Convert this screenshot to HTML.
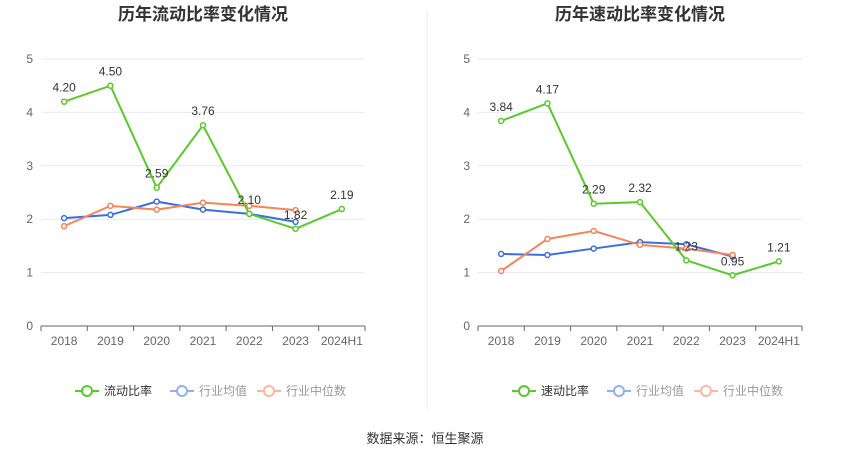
<!DOCTYPE html>
<html><head><meta charset="utf-8"><style>
body{margin:0;background:#fff;font-family:"Liberation Sans","Noto Sans CJK SC",sans-serif;}
svg{display:block}
</style></head><body>
<svg id="c" width="850" height="459" xmlns="http://www.w3.org/2000/svg">
<line x1="427" y1="10" x2="427" y2="410" stroke="#eee"/>
<text x="425" y="443" text-anchor="middle" font-size="13" fill="#333">数据来源：恒生聚源</text>
</svg>
<script>
const categories=["2018","2019","2020","2021","2022","2023","2024H1"];
const yTicks=[0,1,2,3,4,5];
const leftMain=[4.20,4.50,2.59,3.76,2.10,1.82,2.19];
const leftAvg=[2.02,2.08,2.33,2.18,2.10,1.95];
const leftMed=[1.87,2.25,2.18,2.31,2.25,2.17];
const rightMain=[3.84,4.17,2.29,2.32,1.23,0.95,1.21];
const rightAvg=[1.35,1.33,1.45,1.57,1.53,1.30];
const rightMed=[1.03,1.63,1.78,1.52,1.45,1.33];
const svg=document.getElementById('c');
const NS="http://www.w3.org/2000/svg";
function mk(t,a,txt){const e=document.createElementNS(NS,t);for(const k in a)e.setAttribute(k,a[k]);if(txt!==undefined)e.textContent=txt;svg.appendChild(e);return e;}
function chart(x0,x1,title,mainName,main,avg,med,pre){
  const y0=326,yTop=59;
  const ys=v=>y0-(v/5)*(y0-yTop);
  const step=(x1-x0)/categories.length;
  const xs=i=>x0+step*(i+0.5);
  let t=mk('text',{x:(x0+x1)/2,y:20,'text-anchor':'middle','font-size':17,'font-weight':'bold',fill:'#333'},title);
  
  yTicks.forEach(v=>{
    if(v>0){const g=mk('line',{x1:x0,x2:x1,y1:ys(v),y2:ys(v),stroke:'#e6e9ef'});}
    const l=mk('text',{x:x0-8,y:ys(v)+4,'text-anchor':'end','font-size':12,fill:'#666'},v);
    
  });
  const ax=mk('line',{x1:x0,x2:x1,y1:y0,y2:y0,stroke:'#666'});
  categories.forEach((c,i)=>{
    const tk=mk('line',{x1:xs(i)+step/2,x2:xs(i)+step/2,y1:y0,y2:y0+5,stroke:'#666'});
    const l=mk('text',{x:xs(i),y:y0+19,'text-anchor':'middle','font-size':12,fill:'#666'},c);
    
  });
  const tk0=mk('line',{x1:x0,x2:x0,y1:y0,y2:y0+5,stroke:'#666'});
  function series(arr,col,name,labels){
    const p=mk('polyline',{points:arr.map((v,i)=>xs(i)+','+ys(v)).join(' '),fill:'none',stroke:col,'stroke-width':2});
    
    arr.forEach((v,i)=>{
      const c=mk('circle',{cx:xs(i),cy:ys(v),r:2.5,fill:'#fff',stroke:col,'stroke-width':1.5});
      
      if(labels){const l=mk('text',{x:xs(i),y:ys(v)-10,'text-anchor':'middle','font-size':12,fill:'#333'},v.toFixed(2));
        }
    });
  }
  series(avg,'#3a6fe0','avg',false);
  series(med,'#f5845a','median',false);
  series(main,'#5ac92b','main',true);
  const lg=[[mainName,'#5ac92b','#333'],['行业均值','#91b0f3','#999'],['行业中位数','#f9b9a0','#999']];
  let lx=(x0+x1)/2-128;
  const widths=[95,87,100];
  lg.forEach((g,i)=>{
    const l=mk('line',{x1:lx,x2:lx+24,y1:391,y2:391,stroke:g[1],'stroke-width':2});
    const c=mk('circle',{cx:lx+12,cy:391,r:5,fill:'#fff',stroke:g[1],'stroke-width':2});
    const tt=mk('text',{x:lx+29,y:395,'font-size':12,fill:g[2]},g[0]);
    lx+=widths[i];
  });
}
chart(41,365,'历年流动比率变化情况','流动比率',leftMain,leftAvg,leftMed,'left');
chart(478,802,'历年速动比率变化情况','速动比率',rightMain,rightAvg,rightMed,'right');
</script>
</body></html>
